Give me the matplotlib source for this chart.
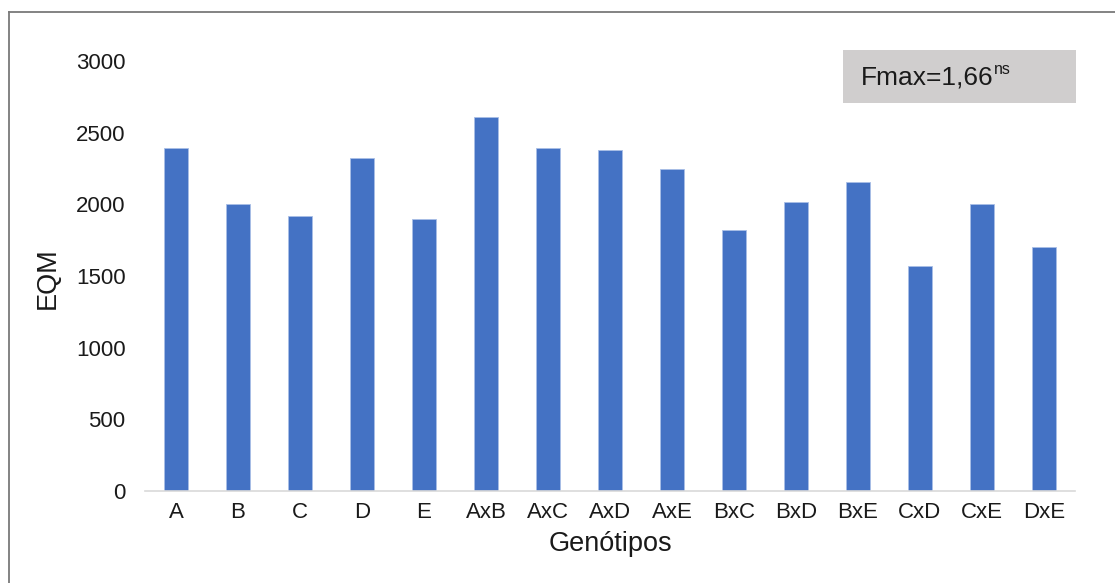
import matplotlib
matplotlib.use("Agg")
import matplotlib.pyplot as plt
from matplotlib.lines import Line2D
from matplotlib.patches import Rectangle

plt.rcParams['font.family'] = ['Liberation Sans', 'DejaVu Sans']

categories = ["A", "B", "C", "D", "E", "AxB", "AxC", "AxD", "AxE",
              "BxC", "BxD", "BxE", "CxD", "CxE", "DxE"]
values = [2390, 2000, 1920, 2320, 1900, 2610, 2390, 2380, 2250,
          1820, 2015, 2155, 1570, 2000, 1705]
yticks = [0, 500, 1000, 1500, 2000, 2500, 3000]

W, H = 1115, 583
fig = plt.figure(figsize=(W / 100, H / 100), dpi=100)
ax = fig.add_axes([145 / W, 1 - 491 / H, (1075 - 145) / W, (491 - 61) / H])

x = list(range(len(categories)))
ax.bar(x, values, width=0.38, color="#4472C4", edgecolor="#A9BFE6", linewidth=0.6, zorder=2)
ax.set_xlim(-0.5, len(categories) - 0.5)
ax.set_ylim(0, 3000)
ax.set_yticks(yticks)
ax.set_xticks(x)
ax.set_xticklabels(categories)
ax.tick_params(axis='both', length=0, labelsize=16, colors="#1a1a1a")
ax.tick_params(axis='y', pad=14)
ax.tick_params(axis='x', pad=8)
for s in ["top", "right", "left"]:
    ax.spines[s].set_visible(False)
ax.spines["bottom"].set_color("#D9D9D9")
ax.spines["bottom"].set_linewidth(1.2)

ax.set_xlabel("Genótipos", fontsize=19.5, color="#1a1a1a", labelpad=6)
fig.text(48 / W, 1 - 278 / H, "EQM", rotation=90, fontsize=19.5, color="#1a1a1a",
         ha="center", va="center")

# text box
fig.patches.append(Rectangle((843 / W, 1 - 103 / H), (1076 - 843) / W, (103 - 50) / H,
                             transform=fig.transFigure, facecolor="#D0CECE", edgecolor="none"))
fig.text(861 / W, 1 - 77 / H, "Fmax=1,66", fontsize=19, color="#1a1a1a",
         ha="left", va="center")
fig.text(994 / W, 1 - 70 / H, "ns", fontsize=11.5, color="#1a1a1a",
         ha="left", va="center")

# figure frame
fig.lines.append(Line2D([9 / W, 9 / W], [0, 1 - 12 / H], transform=fig.transFigure,
                        color="#7a7a7a", linewidth=1.3))
fig.lines.append(Line2D([9 / W, 1], [1 - 12 / H, 1 - 12 / H], transform=fig.transFigure,
                        color="#7a7a7a", linewidth=1.3))

fig.savefig("out.png", dpi=100, facecolor="white")
